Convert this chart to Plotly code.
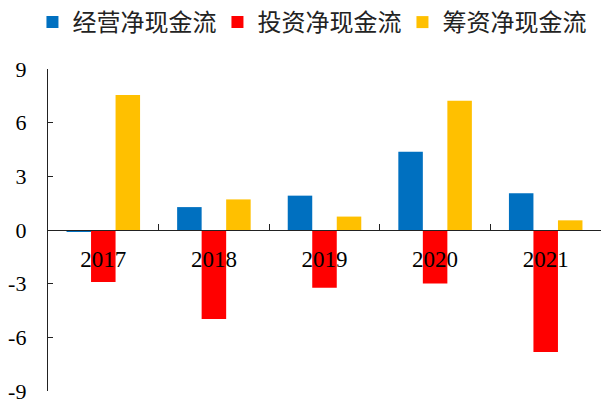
import plotly.graph_objects as go

years = ["2017", "2018", "2019", "2020", "2021"]
operating_cf = [-0.06, 1.28, 1.92, 4.37, 2.05]
investing_cf = [-2.90, -4.98, -3.23, -2.99, -6.82]
financing_cf = [7.55, 1.71, 0.75, 7.22, 0.54]

series_names = ["经营净现金流", "投资净现金流", "筹资净现金流"]
series_colors = ["#0070C0", "#FF0000", "#FFC000"]

y_ticks = [-9, -6, -3, 0, 3, 6, 9]
y_tick_text = ["-9", "-6", "-3", "0", "3", "6", "9"]

serif = "Times New Roman, Liberation Serif, Noto Sans CJK SC, serif"

fig = go.Figure()
for name, vals, color in zip(series_names, [operating_cf, investing_cf, financing_cf], series_colors):
    fig.add_trace(go.Bar(x=years, y=vals, name=name, marker=dict(color=color, line=dict(width=0))))

fig.update_layout(
    width=601, height=403,
    margin=dict(l=48, r=0, t=69, b=12, autoexpand=False),
    paper_bgcolor="white", plot_bgcolor="white",
    barmode="group", bargap=0.335, bargroupgap=0,
    font=dict(family=serif, color="black"),
    legend=dict(
        orientation="h",
        xref="container", x=0.054, xanchor="left",
        yref="container", y=1.0, yanchor="top",
        font=dict(size=24, family="Noto Sans CJK SC, serif", color="#222222"),
        entrywidth=140, entrywidthmode="pixels",
        itemclick=False,
    ),
    xaxis=dict(
        type="category", anchor="free", position=0.5,
        showline=True, linecolor="#222222", linewidth=1.3,
        ticks="inside", ticklen=6, tickcolor="#222222", tickwidth=1.3,
        tickson="boundaries", showgrid=False, zeroline=False,
        tickfont=dict(size=23, family=serif, color="black"),
        ticklabelstandoff=8,
    ),
    yaxis=dict(
        range=[-9, 9], domain=[0, 1],
        tickvals=y_ticks, ticktext=y_tick_text,
        showline=True, linecolor="#222222", linewidth=1.3,
        ticks="inside", ticklen=5, tickcolor="#222222", tickwidth=1.3,
        showgrid=False, zeroline=False,
        tickfont=dict(size=22, family=serif, color="black"),
        ticklabelstandoff=16, ticklabeloverflow="allow",
    ),
)

fig.write_html("out.html")
